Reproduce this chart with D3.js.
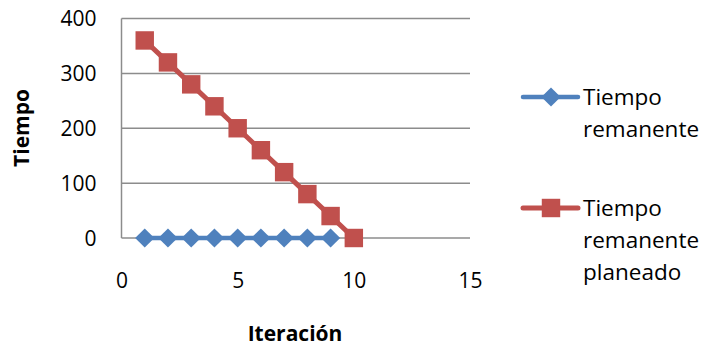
<!DOCTYPE html>
<html>
<head>
<meta charset="utf-8">
<script src="https://cdn.jsdelivr.net/npm/d3@7"></script>
<style>
  body { margin: 0; background: #fff; }
  text { font-family: "Open Sans", sans-serif; fill: #000; }
</style>
</head>
<body>
<div id="chart"></div>
<script>
// data
var iteraciones = [1, 2, 3, 4, 5, 6, 7, 8, 9, 10];
var remanente = [0, 0, 0, 0, 0, 0, 0, 0, 0];
var planeado = [360, 320, 280, 240, 200, 160, 120, 80, 40, 0];
var xTicks = [0, 5, 10, 15];
var yTicks = [0, 100, 200, 300, 400];
var serieNombres = [["Tiempo", "remanente"], ["Tiempo", "remanente", "planeado"]];

var W = 704, H = 347;
var plot = { left: 121.5, right: 470, top: 18.5, bottom: 238 };

var svg = d3.select("#chart").append("svg")
  .attr("width", W)
  .attr("height", H);

var x = d3.scaleLinear().domain([0, 15]).range([plot.left, plot.right]);
var y = d3.scaleLinear().domain([0, 400]).range([plot.bottom, plot.top]);

var blue = "#4F81BD", red = "#C0504D", grid = "#8c8c8c";

// gridlines
svg.append("g")
  .selectAll("line")
  .data(yTicks)
  .enter().append("line")
  .attr("x1", plot.left).attr("x2", plot.right)
  .attr("y1", function (d) { return y(d); })
  .attr("y2", function (d) { return y(d); })
  .attr("stroke", grid)
  .attr("stroke-width", 1.5);

// y axis line
svg.append("line")
  .attr("x1", plot.left).attr("x2", plot.left)
  .attr("y1", plot.top).attr("y2", plot.bottom)
  .attr("stroke", grid)
  .attr("stroke-width", 1.5);

// y tick labels
var yAxis = svg.append("g")
  .attr("transform", "translate(" + (plot.left - 25) + ",0)")
  .call(d3.axisLeft(y).tickValues(yTicks).tickSize(0).tickPadding(0));
yAxis.select(".domain").remove();
yAxis.selectAll("text")
  .style("font-size", "21px")
  .attr("dy", "0.35em");

// x tick labels
var xAxis = svg.append("g")
  .attr("transform", "translate(0," + (plot.bottom + 43) + ")")
  .call(d3.axisBottom(x).tickValues(xTicks).tickSize(0).tickPadding(0));
xAxis.select(".domain").remove();
xAxis.selectAll("text")
  .style("font-size", "21px")
  .attr("dy", "0.35em");

// axis titles
svg.append("text")
  .attr("x", 295)
  .attr("y", 334)
  .attr("dy", "0.35em")
  .style("text-anchor", "middle")
  .style("font-size", "21px")
  .style("font-weight", "bold")
  .text("Iteración");

svg.append("text")
  .attr("transform", "translate(22,128) rotate(-90)")
  .attr("dy", "0.35em")
  .style("text-anchor", "middle")
  .style("font-size", "21px")
  .style("font-weight", "bold")
  .text("Tiempo");

var line = d3.line()
  .x(function (d, i) { return x(iteraciones[i]); })
  .y(function (d) { return y(d); });

var diamond = d3.symbol().type(d3.symbolSquare).size(185);
var square = d3.symbol().type(d3.symbolSquare).size(340);

// serie azul
svg.append("path")
  .datum(remanente)
  .attr("d", line)
  .attr("fill", "none")
  .attr("stroke", blue)
  .attr("stroke-width", 4.5);

svg.append("g")
  .selectAll("path")
  .data(remanente)
  .enter().append("path")
  .attr("d", diamond)
  .attr("transform", function (d, i) {
    return "translate(" + x(iteraciones[i]) + "," + y(d) + ") rotate(45)";
  })
  .attr("fill", blue);

// serie roja
svg.append("path")
  .datum(planeado)
  .attr("d", line)
  .attr("fill", "none")
  .attr("stroke", red)
  .attr("stroke-width", 5);

svg.append("g")
  .selectAll("path")
  .data(planeado)
  .enter().append("path")
  .attr("d", square)
  .attr("transform", function (d, i) {
    return "translate(" + x(iteraciones[i]) + "," + y(d) + ")";
  })
  .attr("fill", red);

// legend
var legendY = [97, 208];
var legend = svg.append("g");

legend.append("line")
  .attr("x1", 523).attr("x2", 578)
  .attr("y1", legendY[0]).attr("y2", legendY[0])
  .attr("stroke", blue).attr("stroke-width", 4.5)
  .attr("stroke-linecap", "round");
legend.append("path")
  .attr("d", diamond)
  .attr("transform", "translate(551," + legendY[0] + ") rotate(45)")
  .attr("fill", blue);

legend.append("line")
  .attr("x1", 523).attr("x2", 578)
  .attr("y1", legendY[1]).attr("y2", legendY[1])
  .attr("stroke", red).attr("stroke-width", 5)
  .attr("stroke-linecap", "round");
legend.append("path")
  .attr("d", square)
  .attr("transform", "translate(551," + legendY[1] + ")")
  .attr("fill", red);

serieNombres.forEach(function (lines, k) {
  var t = legend.append("text")
    .attr("x", 583)
    .attr("y", legendY[k])
    .style("font-size", "22.5px");
  lines.forEach(function (s, j) {
    t.append("tspan")
      .attr("x", 583)
      .attr("y", legendY[k] + j * 32)
      .attr("dy", "0.35em")
      .text(s);
  });
});
</script>
</body>
</html>
